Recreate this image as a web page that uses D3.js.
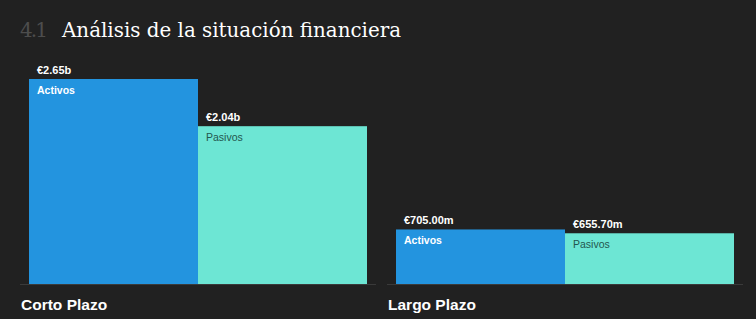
<!DOCTYPE html>
<html>
<head>
<meta charset="utf-8">
<script src="https://cdn.jsdelivr.net/npm/d3@7"></script>
<style>
  html, body { margin: 0; padding: 0; background: #212121; }
  svg { display: block; }
</style>
</head>
<body>
<svg id="chart"></svg>
<script>
const categories = ['Corto Plazo', 'Largo Plazo']
const seriesNames = ['Activos', 'Pasivos']
const activos = [2.65e9, 705.0e6]
const pasivos = [2.04e9, 655.7e6]
const valueLabels = [['€2.65b', '€2.04b'], ['€705.00m', '€655.70m']]

const width = 756
const height = 319
const baseline = 284

const colors = { Activos: '#2394df', Pasivos: '#6de6d4' }
const innerText = { Activos: '#ffffff', Pasivos: '#23574f' }

const svg = d3.select('#chart')
  .attr('width', width)
  .attr('height', height)

// title
svg.append('text')
  .attr('x', 20)
  .attr('y', 37)
  .attr('font-family', '"DejaVu Serif", serif')
  .attr('font-size', 20)
  .attr('fill', '#4d4d4d')
  .attr('textLength', 28)
  .text('4.1')

svg.append('text')
  .attr('x', 62)
  .attr('y', 37)
  .attr('font-family', '"DejaVu Serif", serif')
  .attr('font-size', 20)
  .attr('fill', '#ffffff')
  .attr('textLength', 339)
  .attr('lengthAdjust', 'spacingAndGlyphs')
  .text('Análisis de la situación financiera')

const x0 = d3.scaleBand()
  .domain(categories)
  .range([20, 743])
  .paddingInner(0.03)

const x1 = d3.scaleBand()
  .domain(seriesNames)
  .range([9, x0.bandwidth() - 9])

const y = d3.scaleLinear()
  .domain([0, 2.65e9])
  .range([baseline, 79])

const rows = categories.map((c, i) => ({
  category: c,
  values: [
    { name: 'Activos', value: activos[i], label: valueLabels[i][0] },
    { name: 'Pasivos', value: pasivos[i], label: valueLabels[i][1] }
  ]
}))

const groups = svg.append('g')
  .selectAll('g')
  .data(rows)
  .enter().append('g')
  .attr('transform', d => `translate(${x0(d.category)},0)`)

groups.append('line')
  .attr('x1', 0)
  .attr('x2', x0.bandwidth())
  .attr('y1', baseline + 0.5)
  .attr('y2', baseline + 0.5)
  .attr('stroke', '#3a3a3a')
  .attr('stroke-width', 1)

const bars = groups.selectAll('g.bar')
  .data(d => d.values)
  .enter().append('g')
  .attr('class', 'bar')

bars.append('rect')
  .attr('x', d => x1(d.name))
  .attr('y', d => y(d.value))
  .attr('width', x1.bandwidth())
  .attr('height', d => baseline - y(d.value))
  .attr('fill', d => colors[d.name])

bars.append('text')
  .attr('x', d => x1(d.name) + 8)
  .attr('y', d => y(d.value) - 5)
  .attr('fill', '#ffffff')
  .attr('font-family', '"Liberation Sans", Arial, sans-serif')
  .attr('font-weight', 'bold')
  .attr('font-size', 11)
  .text(d => d.label)

bars.append('text')
  .attr('x', d => x1(d.name) + 8)
  .attr('y', d => y(d.value) + 15)
  .attr('fill', d => innerText[d.name])
  .attr('font-family', '"Liberation Sans", Arial, sans-serif')
  .attr('font-weight', d => d.name === 'Activos' ? 'bold' : 'normal')
  .attr('font-size', 10.5)
  .text(d => d.name)

groups.append('text')
  .attr('x', 1)
  .attr('y', 310)
  .attr('fill', '#ffffff')
  .attr('font-family', '"Liberation Sans", Arial, sans-serif')
  .attr('font-weight', 'bold')
  .attr('font-size', 15.5)
  .text(d => d.category)
</script>
</body>
</html>
